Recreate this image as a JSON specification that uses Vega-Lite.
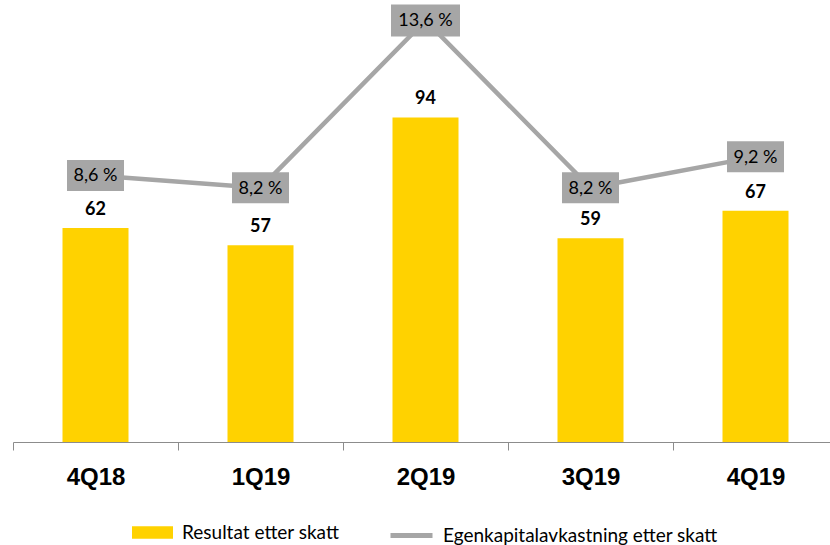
{
  "$schema": "https://vega.github.io/schema/vega-lite/v6.json",
  "width": 817,
  "height": 442,
  "autosize": "none",
  "padding": {"left": 13, "top": 0, "right": 0, "bottom": 103},
  "background": "white",
  "config": {"view": {"stroke": null}},
  "data": {
    "values": [
      {"quarter": "4Q18", "result": 62, "roe": 8.6},
      {"quarter": "1Q19", "result": 57, "roe": 8.2},
      {"quarter": "2Q19", "result": 94, "roe": 13.6},
      {"quarter": "3Q19", "result": 59, "roe": 8.2},
      {"quarter": "4Q19", "result": 67, "roe": 9.2}
    ]
  },
  "encoding": {
    "x": {
      "field": "quarter",
      "type": "nominal",
      "sort": null,
      "scale": {"paddingInner": 0, "paddingOuter": 0, "range": [0, 825]},
      "axis": {
        "title": null,
        "labelAngle": 0,
        "tickBand": "extent",
        "domainColor": "#8c8c8c",
        "tickColor": "#8c8c8c",
        "tickSize": 8,
        "labelFont": "Liberation Sans",
        "labelFontWeight": "bold",
        "labelFontSize": 24,
        "labelColor": "#000000",
        "labelPadding": 15
      }
    }
  },
  "layer": [
    {
      "layer": [
        {
          "mark": {"type": "bar", "width": {"band": 0.4}},
          "encoding": {
            "y": {"field": "result", "type": "quantitative", "scale": {"domain": [0, 128], "nice": false}, "axis": null},
            "fill": {
              "datum": "Resultat etter skatt",
              "type": "nominal",
              "scale": {"range": ["#FFD200"]},
              "legend": {
                "title": null,
                "orient": "none",
                "legendX": 119,
                "legendY": 512,
                "symbolType": "M-1,-0.3H1V0.3H-1Z",
                "symbolSize": 1681,
                "symbolStrokeWidth": 0,
                "labelFont": "Lato",
                "labelFontSize": 19,
                "labelLimit": 0,
                "labelColor": "#000000",
                "labelOffset": 9,
                "padding": 0
              }
            }
          }
        },
        {
          "mark": {"type": "text", "font": "Lato", "fontWeight": "bold", "fontSize": 18, "baseline": "alphabetic", "dy": -13, "color": "#000000"},
          "encoding": {
            "y": {"field": "result", "type": "quantitative"},
            "text": {"field": "result", "type": "quantitative"}
          }
        }
      ]
    },
    {
      "transform": [
        {"calculate": "replace(format(datum.roe, '.1f'), '.', ',') + ' %'", "as": "roeLabel"}
      ],
      "layer": [
        {
          "mark": {"type": "line", "strokeWidth": 4.5},
          "encoding": {
            "y": {"field": "roe", "type": "quantitative", "scale": {"domain": [0, 14.26], "nice": false}, "axis": null},
            "stroke": {
              "datum": "Egenkapitalavkastning etter skatt",
              "type": "nominal",
              "scale": {"range": ["#A6A6A6"]},
              "legend": {
                "title": null,
                "orient": "none",
                "legendX": 375,
                "legendY": 512,
                "symbolType": "stroke",
                "symbolSize": 1764,
                "symbolStrokeWidth": 5,
                "labelFont": "Lato",
                "labelFontSize": 19,
                "labelLimit": 0,
                "labelColor": "#000000",
                "labelOffset": 8,
                "padding": 0
              }
            }
          }
        },
        {
          "mark": {"type": "point", "filled": true, "opacity": 1, "color": "#A6A6A6", "strokeWidth": 0},
          "encoding": {
            "y": {"field": "roe", "type": "quantitative"},
            "shape": {
              "condition": {"test": "datum.roe >= 10", "value": "M-1,-0.464H1V0.464H-1Z"},
              "value": "M-1,-0.544H1V0.544H-1Z"
            },
            "size": {
              "condition": {"test": "datum.roe >= 10", "value": 4761},
              "value": 3249
            }
          }
        },
        {
          "mark": {"type": "text", "font": "Lato", "fontSize": 18, "baseline": "middle", "color": "#000000", "dy": 1},
          "encoding": {
            "y": {"field": "roe", "type": "quantitative"},
            "text": {"field": "roeLabel", "type": "nominal"}
          }
        }
      ]
    }
  ],
  "resolve": {"scale": {"y": "independent"}}
}
